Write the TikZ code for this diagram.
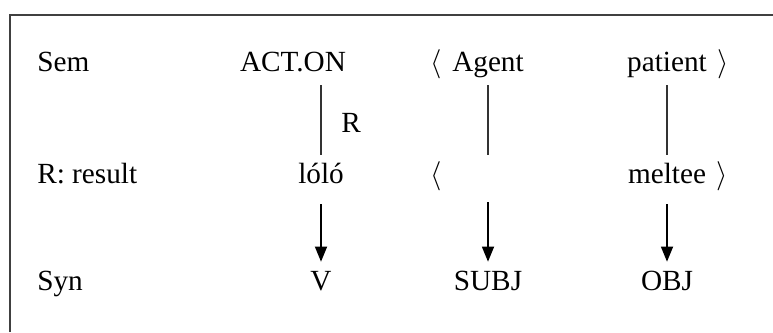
\documentclass[tikz,border=0pt]{standalone}
\usepackage{fontspec}
\setmainfont{Liberation Serif}
\usetikzlibrary{arrows.meta}

\tikzset{
  word/.style={font=\fontsize{20.8}{25}\selectfont, inner sep=0pt, text height=0.7cm, text depth=0.35cm},
  rowlabel/.style={word, anchor=base west},
  link/.style={line width=0.9pt, black!80},
  arrow/.style={line width=1.3pt, -{Triangle[length=0.38cm, width=0.3cm]}},
  frame/.style={line width=1.4pt, black!75}
}

\begin{document}
\begin{tikzpicture}[x=0.025cm, y=-0.025cm]

    % Fix the canvas to the reference size
    \useasboundingbox (0,0) rectangle (773,332);

    % Draw box edges (right and bottom fall outside)
    \draw[frame] (10,332) -- (10,15) -- (773,15);

    % Row labels
    \node[rowlabel] (sem) at (37,71) {Sem};
    \node[rowlabel] (result) at (37,183) {R: result};
    \node[rowlabel] (syn) at (37,290) {Syn};

    % Predicate column
    \node[word, anchor=base] (act) at (293,71) {ACT.ON};
    \node[word, anchor=base] (lolo) at (321,183) {lóló};
    \node[word, anchor=base] (v) at (321,290) {V};
    \node[word, anchor=base] (rel) at (351,132) {R};

    % Agent column
    \node[word, anchor=base] (lagent) at (436,71) {$\langle$};
    \node[word, anchor=base] (agent) at (488,71) {Agent};
    \node[word, anchor=base] (lslot) at (436,183) {$\langle$};
    \node[word, anchor=base] (subj) at (488,290) {SUBJ};

    % Patient column
    \node[word, anchor=base] (patient) at (667,71) {patient};
    \node[word, anchor=base] (rpatient) at (723,71) {$\rangle$};
    \node[word, anchor=base] (meltee) at (667,183) {meltee};
    \node[word, anchor=base] (rmeltee) at (722,183) {$\rangle$};
    \node[word, anchor=base] (obj) at (667,290) {OBJ};

    % Sem to R lines
    \draw[link] (act.south -| lolo) -- (lolo);
    \draw[link] (agent) -- (agent |- lolo.north);
    \draw[link] (patient) -- (meltee);

    % R to Syn arrows
    \draw[arrow, shorten <=5] (lolo) -- (v);
    \draw[arrow] ([yshift=-5*0.025cm]agent |- lolo.south) -- (subj);
    \draw[arrow, shorten <=5] (meltee) -- (obj);

\end{tikzpicture}
\end{document}
